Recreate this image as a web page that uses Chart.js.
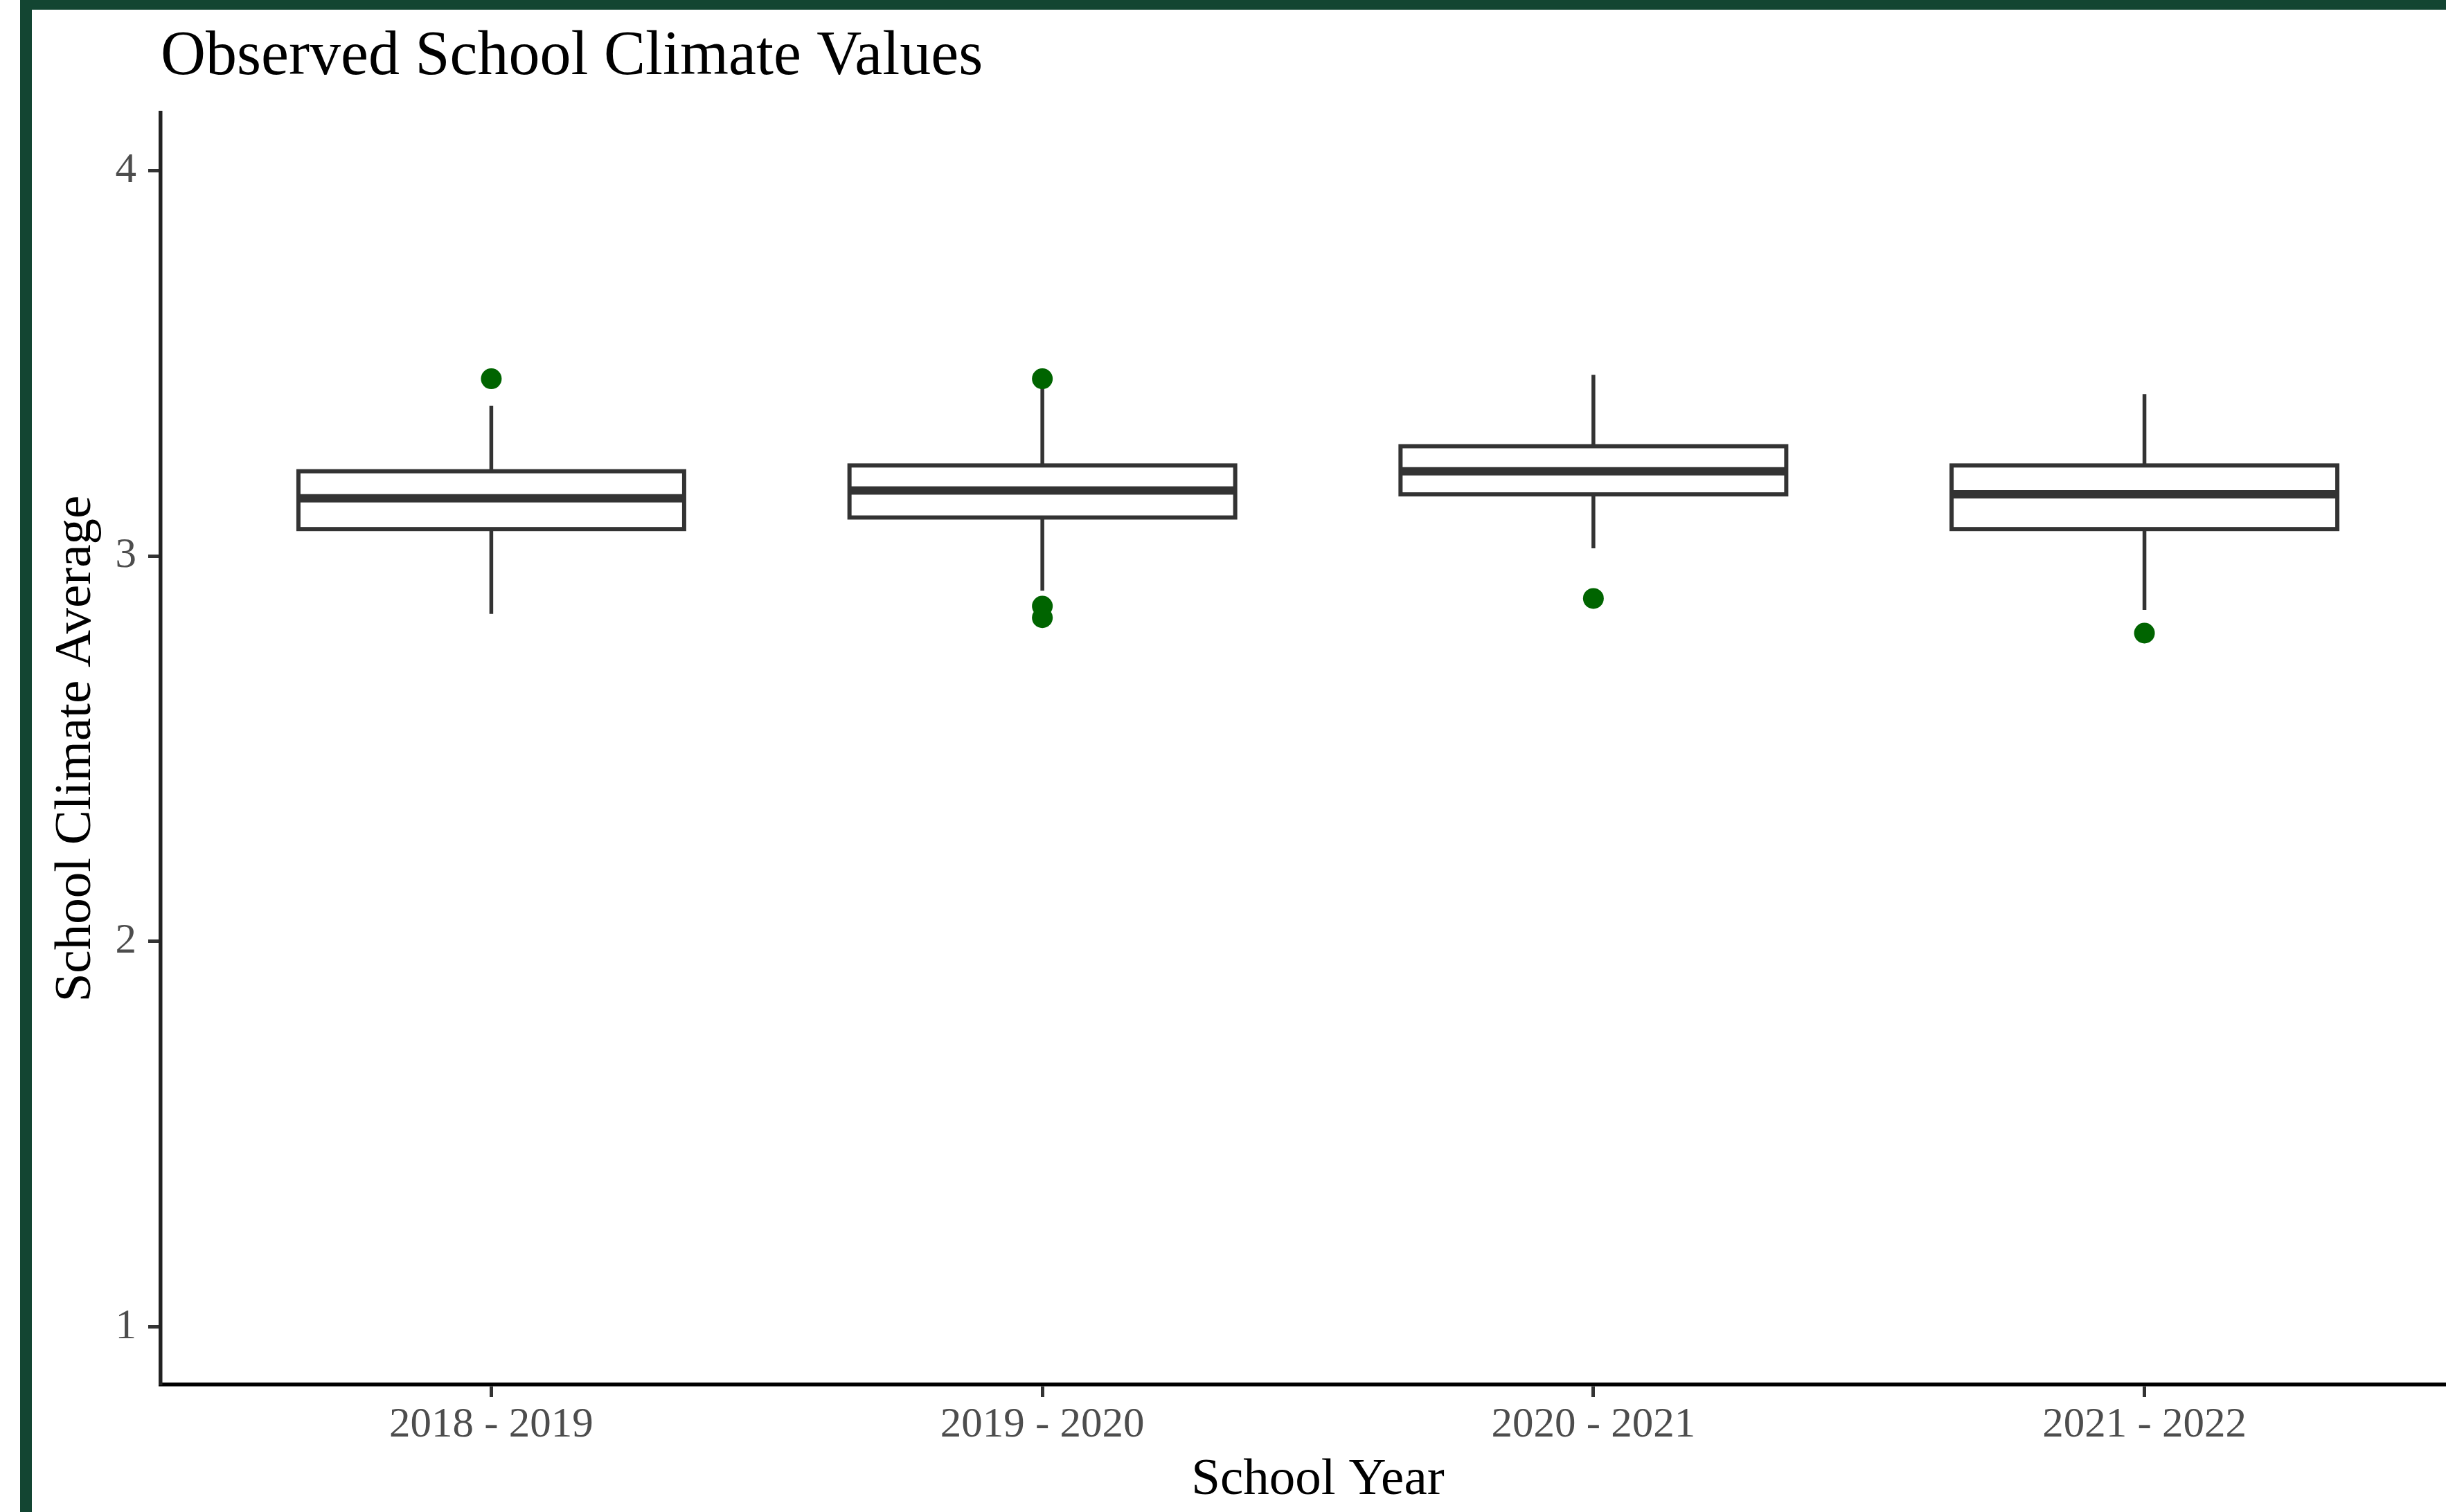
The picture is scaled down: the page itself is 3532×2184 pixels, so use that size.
<!DOCTYPE html>
<html>
<head>
<meta charset="utf-8">
<title>Observed School Climate Values</title>
<script src="https://cdn.jsdelivr.net/npm/chart.js@4.4.1/dist/chart.umd.min.js"></script>
<style>
  html, body { margin: 0; padding: 0; background: #fff; overflow: hidden; }
  .frame {
    position: absolute; left: 29px; top: 0;
    width: calc(100vw - 29px); height: 100vh; box-sizing: border-box;
    border-top: 14px solid #134532; border-left: 17px solid #134532;
  }
  #chart { position: absolute; left: 0; top: 0; }
</style>
</head>
<body>
<div class="frame"></div>
<canvas id="chart" width="3620" height="2184"></canvas>
<script>
const years = ["2018 - 2019", "2019 - 2020", "2020 - 2021", "2021 - 2022"];
const whiskerLow = [2.85, 2.91, 3.02, 2.86];
const q1 = [3.07, 3.10, 3.16, 3.07];
const median = [3.15, 3.17, 3.22, 3.16];
const q3 = [3.22, 3.235, 3.285, 3.235];
const whiskerHigh = [3.39, 3.44, 3.47, 3.42];
const outliers = [[3.46], [3.46, 2.87, 2.84], [2.89], [2.80]];
const yTicks = [1, 2, 3, 4];

const SERIF = "'Liberation Serif', 'Times New Roman', serif";
const LINE = "#333333";

// whiskers under the boxes; box outline (centred stroke, like ggplot) and median on top
const boxParts = {
  id: "boxParts",
  beforeDatasetsDraw(chart) {
    const { ctx, scales: { x, y } } = chart;
    ctx.save();
    ctx.strokeStyle = LINE;
    ctx.lineWidth = 5.5;
    years.forEach((_, i) => {
      const px = x.getPixelForValue(i);
      ctx.beginPath();
      ctx.moveTo(px, y.getPixelForValue(q3[i]));
      ctx.lineTo(px, y.getPixelForValue(whiskerHigh[i]));
      ctx.moveTo(px, y.getPixelForValue(q1[i]));
      ctx.lineTo(px, y.getPixelForValue(whiskerLow[i]));
      ctx.stroke();
    });
    ctx.restore();
  },
  afterDatasetDraw(chart, args) {
    if (args.index !== 0) return;
    const { ctx, scales: { y } } = chart;
    ctx.save();
    ctx.strokeStyle = LINE;
    chart.getDatasetMeta(0).data.forEach((bar, i) => {
      const left = bar.x - bar.width / 2;
      const top = Math.min(bar.y, bar.base);
      ctx.lineWidth = 6;
      ctx.strokeRect(left, top, bar.width, Math.abs(bar.base - bar.y));
      const py = y.getPixelForValue(median[i]);
      ctx.lineWidth = 12;
      ctx.beginPath();
      ctx.moveTo(left, py);
      ctx.lineTo(left + bar.width, py);
      ctx.stroke();
    });
    ctx.restore();
  }
};

const outlierPoints = outliers.flatMap((vals, i) => vals.map(v => ({ x: i, y: v })));

new Chart(document.getElementById("chart"), {
  type: "bar",
  data: {
    datasets: [
      {
        type: "bar",
        data: years.map((_, i) => ({ x: i, y: [q1[i], q3[i]] })),
        backgroundColor: "#ffffff",
        borderWidth: 0,
        barPercentage: 0.7,
        categoryPercentage: 1,
        order: 2
      },
      {
        type: "scatter",
        data: outlierPoints,
        pointRadius: 15,
        pointBackgroundColor: "#006400",
        pointBorderWidth: 0,
        order: 1
      }
    ]
  },
  options: {
    responsive: false,
    animation: false,
    devicePixelRatio: 1,
    layout: { padding: { left: 0, right: 46, top: 0, bottom: 0 } },
    plugins: {
      legend: { display: false },
      tooltip: { enabled: false },
      title: {
        display: true,
        text: "Observed School Climate Values",
        align: "start",
        fullSize: false,
        color: "#000000",
        font: { family: SERIF, size: 90, weight: "normal", lineHeight: 1.2 },
        padding: { top: 29, bottom: 26 }
      }
    },
    scales: {
      x: {
        type: "linear",
        min: -0.6,
        max: 3.6,
        offset: false,
        afterBuildTicks: s => { s.ticks = years.map((_, i) => ({ value: i })); },
        afterFit: s => { s.height = 184; },
        ticks: {
          callback: v => years[v],
          color: "#4d4d4d",
          font: { family: SERIF, size: 61 },
          padding: 4,
          maxRotation: 0,
          autoSkip: false
        },
        grid: { offset: false, drawOnChartArea: false, tickLength: 18, tickColor: LINE, tickWidth: 5 },
        border: { color: "#000000", width: 5.5 },
        title: {
          display: true,
          text: "School Year",
          color: "#000000",
          font: { family: SERIF, size: 75, lineHeight: 1.2 },
          padding: { top: 0, bottom: 1 }
        }
      },
      y: {
        min: 0.85,
        max: 4.15,
        beginAtZero: false,
        afterBuildTicks: s => { s.ticks = yTicks.map(v => ({ value: v })); },
        afterFit: s => { s.width = 232; },
        ticks: {
          color: "#4d4d4d",
          font: { family: SERIF, size: 61 },
          padding: 17
        },
        grid: { drawOnChartArea: false, tickLength: 18, tickColor: LINE, tickWidth: 5 },
        border: { color: "#222222", width: 5.5 },
        title: {
          display: true,
          text: "School Climate Average",
          color: "#000000",
          font: { family: SERIF, size: 75, lineHeight: 1.2 },
          padding: { top: 65, bottom: 0 }
        }
      }
    }
  },
  plugins: [boxParts]
});
</script>
</body>
</html>
